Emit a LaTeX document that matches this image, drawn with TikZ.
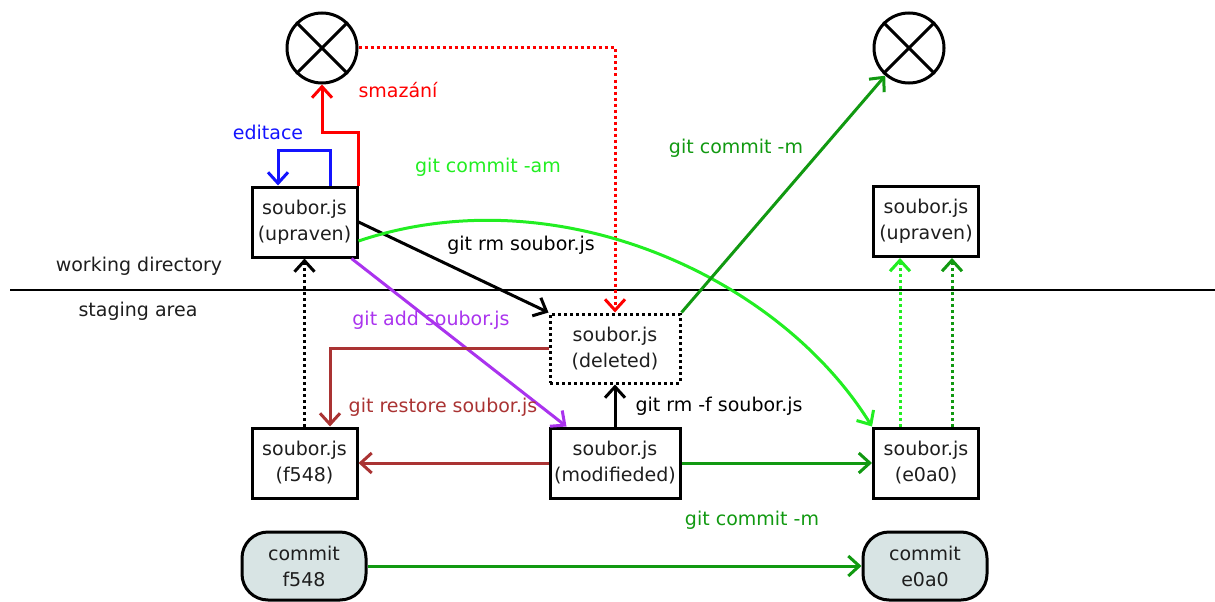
\documentclass[tikz,border=0pt]{standalone}
\usepackage{fontspec}
\setmainfont{DejaVu Sans}
\usetikzlibrary{arrows.meta}
\definecolor{cred}{RGB}{255,0,0}
\definecolor{cblue}{RGB}{20,20,255}
\definecolor{cbright}{RGB}{34,238,34}
\definecolor{cdark}{RGB}{17,153,17}
\definecolor{cbrown}{RGB}{170,51,51}
\definecolor{cpurple}{RGB}{170,51,238}
\definecolor{cfill}{RGB}{216,228,228}
\definecolor{ctext}{RGB}{30,30,30}
\begin{document}
\begin{tikzpicture}[x=1pt,y=-1pt,
  every node/.style={font=\fontsize{19}{26}\selectfont, text=ctext},
  filebox/.style={draw=black, line width=3pt, fill=white, minimum width=105pt, minimum height=70pt, inner sep=0pt, align=center},
  delbox/.style={draw=black, line width=3pt, dash pattern=on 3pt off 3pt, fill=white, minimum width=130pt, minimum height=69pt, inner sep=0pt, align=center},
  commitbox/.style={draw=black, line width=3pt, fill=cfill, rounded corners=26pt, minimum width=124pt, minimum height=68pt, inner sep=0pt, align=center},
  xcirc/.style={draw=black, line width=3pt, circle, minimum size=70pt, inner sep=0pt},
  conn/.style={line width=3pt, -{Straight Barb[length=11pt,width=20pt,line width=3pt]}},
  dotconn/.style={conn, dash pattern=on 3pt off 3pt},
  lbl/.style={inner sep=0pt}
]
\useasboundingbox (0,0) rectangle (1215,602);

% separator
\draw[line width=2.5pt] (10,290) -- (1215,290);
\node[lbl] (wd) at (139,266) {working directory};
\node[lbl] (sa) at (138,311) {staging area};

% nodes
\node[xcirc] (x1) at (322,48) {};
\draw[line width=3pt] (x1.45) -- (x1.225) (x1.135) -- (x1.315);
\node[xcirc] (x2) at (909,48) {};
\draw[line width=3pt] (x2.45) -- (x2.225) (x2.135) -- (x2.315);

\node[filebox] (up1) at (304.5,222) {soubor.js\\(upraven)};
\node[filebox] (up2) at (926,221.5) {soubor.js\\(upraven)};
\node[delbox] (del) at (615,348.5) {soubor.js\\(deleted)};
\node[filebox] (f5) at (304.5,463) {soubor.js\\(f548)};
\node[filebox, minimum width=130pt] (mod) at (615,463) {soubor.js\\(modifieded)};
\node[filebox] (e0) at (926,463) {soubor.js\\(e0a0)};
\node[commitbox] (c1) at (304,566) {commit\\f548};
\node[commitbox] (c2) at (925,566) {commit\\e0a0};

% connectors
\draw[conn, cred] (up1.north east) -- ++(0,-53) -| (x1.south);
\node[lbl, text=cred] (lsm) at (398,90) {smazání};

\draw[conn, cblue] ([xshift=25.5pt]up1.north) -- ++(0,-35) -| ([xshift=-26.5pt]up1.north);
\node[lbl, text=cblue] (led) at (268,132) {editace};

\draw[dotconn, cred] (x1.east) -| (del.north);

\draw[conn, black] (up1.east) -- (del.north west);
\node[lbl, text=black] (lrm) at (521,245) {git rm soubor.js};

\draw[conn, cbright] ([yshift=-19pt]up1.east) .. controls (555,175) and (778,275) .. (e0.north west);
\node[lbl, text=cbright] (lam) at (488,167) {git commit -am};

\draw[conn, cpurple] ([xshift=-7pt]up1.south east) -- ([xshift=18pt]mod.north west);
\node[lbl, text=cpurple] (ladd) at (431,320) {git add soubor.js};

\draw[conn, cbrown] (del.west) -| ([xshift=25.5pt]f5.north);
\node[lbl, text=cbrown] (lres) at (443,407) {git restore soubor.js};

\draw[conn, cbrown] (mod.west) -- (f5.east);

\draw[dotconn, black] (f5.north) -- (up1.south);

\draw[conn, black] (mod.north) -- (del.south);
\node[lbl, text=black] (lrmf) at (719,406) {git rm -f soubor.js};

\draw[conn, cdark] (del.north east) -- (x2);
\node[lbl, text=cdark] (lcm1) at (736,148) {git commit -m};

\draw[conn, cdark] (mod.east) -- (e0.west);
\node[lbl, text=cdark] (lcm2) at (752,520) {git commit -m};

\draw[conn, cdark] (c1.east) -- (c2.west);

\draw[dotconn, cbright] ([xshift=-26pt]e0.north) -- ([xshift=-26pt]up2.south);
\draw[dotconn, cdark] ([xshift=26pt]e0.north) -- ([xshift=26pt]up2.south);
\end{tikzpicture}
\end{document}
